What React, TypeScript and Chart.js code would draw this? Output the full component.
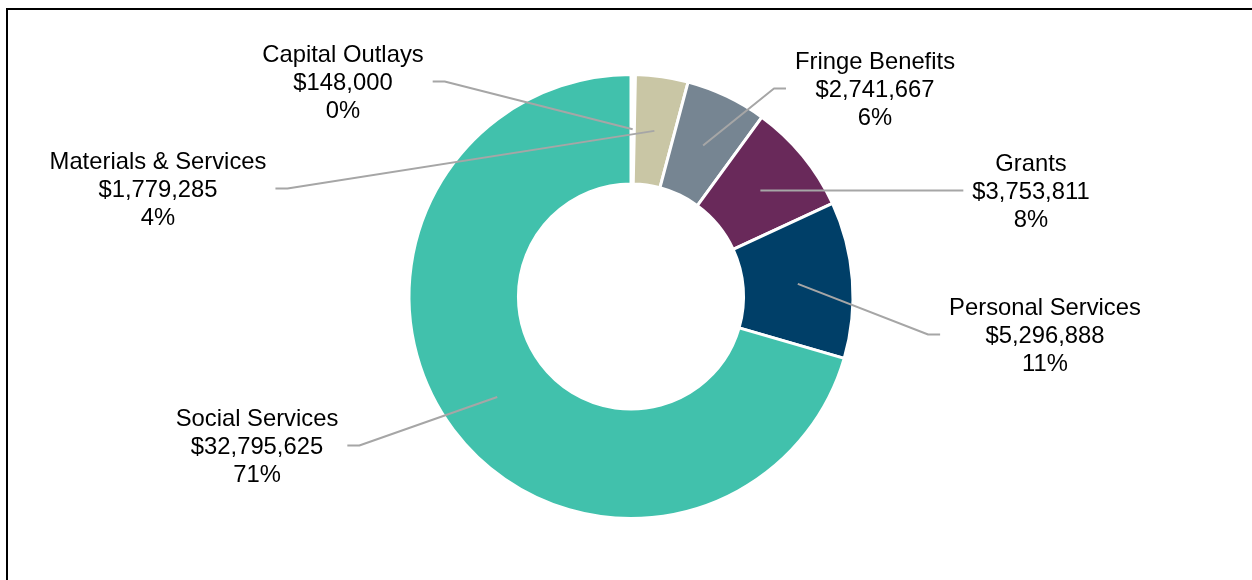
import React, { useEffect, useRef } from "react";
import { Chart, registerables } from "chart.js";

Chart.register(...registerables);

const categories = [
  "Capital Outlays",
  "Materials & Services",
  "Fringe Benefits",
  "Grants",
  "Personal Services",
  "Social Services",
];
const amounts = [148000, 1779285, 2741667, 3753811, 5296888, 32795625];
const sliceColors = ["#FFFFFF", "#C9C6A5", "#768592", "#69295A", "#003F68", "#41C1AC"];

// Label block placement relative to the doughnut centre (px): centre of the middle text line
const labelOffsets: [number, number][] = [
  [-288, -213],
  [-473, -106],
  [244, -206],
  [400, -104],
  [414, 40],
  [-374, 151],
];

const FONT = '23.8px "Liberation Sans", Arial, Helvetica, sans-serif';
const LINE_GAP = 27.8;

const leaderLabels = {
  id: "leaderLabels",
  afterDatasetsDraw(chart: any) {
    const ctx: CanvasRenderingContext2D = chart.ctx;
    const meta = chart.getDatasetMeta(0);
    const total = amounts.reduce((a, b) => a + b, 0);
    ctx.save();
    ctx.font = FONT;
    meta.data.forEach((arc: any, i: number) => {
      const p = arc.getProps(["x", "y", "startAngle", "endAngle", "innerRadius", "outerRadius"], true);
      const mid = (p.startAngle + p.endAngle) / 2;
      const r = (p.innerRadius + p.outerRadius) / 2;
      const ex = p.x + Math.cos(mid) * r;
      const ey = p.y + Math.sin(mid) * r;
      const lines = [
        categories[i],
        "$" + amounts[i].toLocaleString("en-US"),
        Math.round((amounts[i] / total) * 100) + "%",
      ];
      const lx = p.x + labelOffsets[i][0];
      const ly = p.y + labelOffsets[i][1];
      const w = Math.max(...lines.map((t) => ctx.measureText(t).width));
      const dir = lx < p.x ? 1 : -1;
      const sx = lx + dir * (w / 2 + 9);
      const bx = sx + dir * 12;
      const sy = ly - 2;
      ctx.beginPath();
      ctx.moveTo(sx, sy);
      ctx.lineTo(bx, sy);
      ctx.lineTo(ex, ey);
      ctx.strokeStyle = "#A6A6A6";
      ctx.lineWidth = 2;
      ctx.lineJoin = "round";
      ctx.stroke();

      ctx.fillStyle = "#000000";
      ctx.textAlign = "center";
      ctx.textBaseline = "middle";
      lines.forEach((t, k) => {
        ctx.fillText(t, lx, ly + (k - 1) * LINE_GAP);
      });
    });
    ctx.restore();
  },
};

export default function App() {
  const ref = useRef<HTMLCanvasElement | null>(null);
  useEffect(() => {
    if (!ref.current) return;
    const chart = new Chart(ref.current, {
      type: "doughnut",
      data: {
        labels: categories,
        datasets: [
          {
            data: amounts,
            backgroundColor: sliceColors,
            borderColor: "#FFFFFF",
            borderWidth: 3,
          },
        ],
      },
      options: {
        responsive: false,
        animation: false,
        events: [],
        radius: 222,
        cutout: "50.7%",
        layout: { padding: { left: 10, top: 13, right: 0, bottom: 0 } },
        plugins: {
          legend: { display: false },
          tooltip: { enabled: false },
          title: { display: false },
        },
      } as any,
      plugins: [leaderLabels],
    });
    return () => chart.destroy();
  }, []);

  return (
    <div style={{ position: "fixed", left: 0, top: 0, width: 1252, height: 580, background: "#fff", overflow: "hidden" }}>
      <canvas ref={ref} width={1252} height={580} style={{ position: "absolute", left: 0, top: 0, width: 1252, height: 580 }} />
      <div
        style={{
          position: "absolute",
          left: 6,
          top: 8,
          width: 1300,
          height: 700,
          border: "2px solid #000",
          boxSizing: "border-box",
          pointerEvents: "none",
        }}
      />
    </div>
  );
}
